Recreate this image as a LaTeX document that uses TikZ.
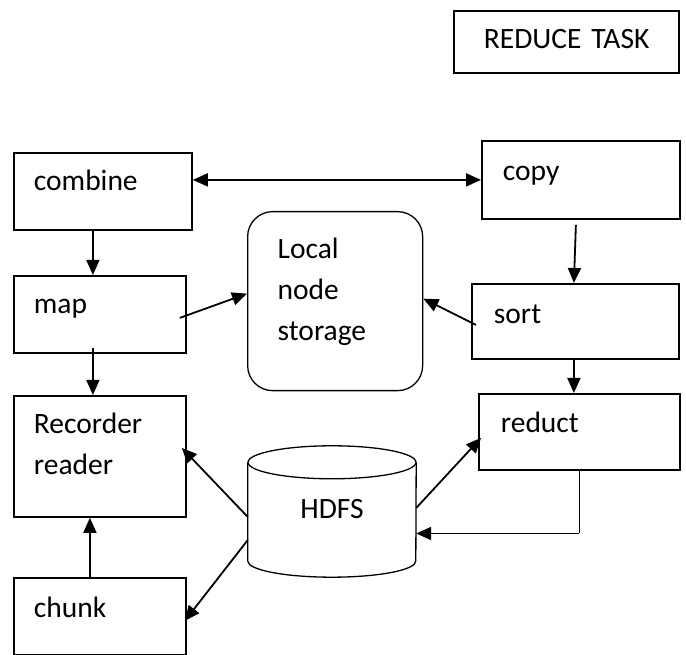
\documentclass[tikz,border=0pt]{standalone}
\usepackage{fontspec}
\setmainfont{Carlito}
\usetikzlibrary{arrows.meta}
\tikzset{
  >={Triangle[length=15pt,width=13pt]},
  box/.style={draw, line width=1.8pt, anchor=north west, inner ysep=0pt, align=left, font=\fontsize{29.5}{41}\selectfont},
  store/.style={box, rounded corners=25pt, line width=1.3pt},
  arr/.style={line width=1.8pt, ->},
  thinline/.style={line width=1.3pt}
}

\begin{document}
\begin{tikzpicture}[x=1pt, y=1pt]
\useasboundingbox (0,0) rectangle (686,655);
\node[box, inner xsep=30pt, text width=165pt, text height=38pt, text depth=24pt] (task) at (453,645) {REDUCE~TASK};
\node[box, inner xsep=20pt, text width=138pt, text height=38pt, text depth=39pt] (combine) at (13,503) {combine};
\node[box, inner xsep=21pt, text width=156pt, text height=40pt, text depth=38pt] (copy) at (481,515) {copy};
\node[box, inner xsep=20pt, text width=132pt, text height=38pt, text depth=39pt] (map) at (13,380) {map};
\node[box, inner xsep=22pt, text width=163pt, text height=40pt, text depth=35pt] (sort) at (471,372) {sort};
\node[store, inner xsep=30pt, text width=115pt, text height=47pt, text depth=132pt] (storage) at (247,444) {Local\\node\\storage};
\node[box, inner xsep=22pt, text width=157pt, text height=39pt, text depth=37pt] (reduct) at (478,262) {reduct};
\node[box, inner xsep=20pt, text width=132pt, text height=38pt, text depth=83pt] (recorder) at (13,260) {Recorder\\reader};
\node[box, inner xsep=20pt, text width=132pt, text height=40pt, text depth=37pt] (chunk) at (13,78) {chunk};
\node[font=\fontsize{29.5}{41}\selectfont, inner sep=0pt, minimum width=168pt, minimum height=131pt, text depth=6pt] (hdfs) at (332,143.5) {HDFS};
\draw[thinline] ([yshift=-16.5pt]hdfs.north) ellipse [x radius=84pt, y radius=16.5pt];
\draw[thinline] ([yshift=-16.5pt]hdfs.north west) -- ([yshift=16pt]hdfs.south west)
  arc[start angle=180, end angle=360, x radius=84pt, y radius=16pt] -- ([yshift=-16.5pt]hdfs.north east);

\draw[arr, <->] (combine.east |- copy.west) -- (copy.west);
\draw[arr] ([xshift=-10pt]combine.south) -- ([xshift=-7pt]map.north);
\draw[arr] ([shift={(-7pt,-3.5pt)}]map.east) -- ([yshift=7.5pt]storage.west);
\draw[arr] ([shift={(-7pt,6pt)}]map.south) -- ([xshift=-7pt]recorder.north);
\draw[arr] ([shift={(-5pt,-5pt)}]copy.south) -- ([xshift=-1.5pt]sort.north);
\draw[arr] ([shift={(5pt,-3.5pt)}]sort.west) -- ([yshift=2.5pt]storage.east);
\draw[arr] ([xshift=-1.5pt]sort.south) -- ([xshift=-5.5pt]reduct.north);
\draw[arr] ([yshift=-5.5pt]hdfs.west) -- ([shift={(-5pt,8.5pt)}]recorder.east);
\draw[arr] ([yshift=-28.5pt]hdfs.west) -- ([shift={(-2pt,-4.5pt)}]chunk.east);
\draw[arr] ([xshift=-10pt]chunk.north) -- ([xshift=-10pt]recorder.south);
\draw[arr] ([yshift=3.5pt]hdfs.east) -- ([shift={(3pt,-6pt)}]reduct.west);
\coordinate (elbow) at ([yshift=-22pt]hdfs.east -| reduct.south);
\draw[thinline] (reduct.south) -- (elbow);
\draw[arr] (elbow) -- ([yshift=-22pt]hdfs.east);
\end{tikzpicture}
\end{document}
